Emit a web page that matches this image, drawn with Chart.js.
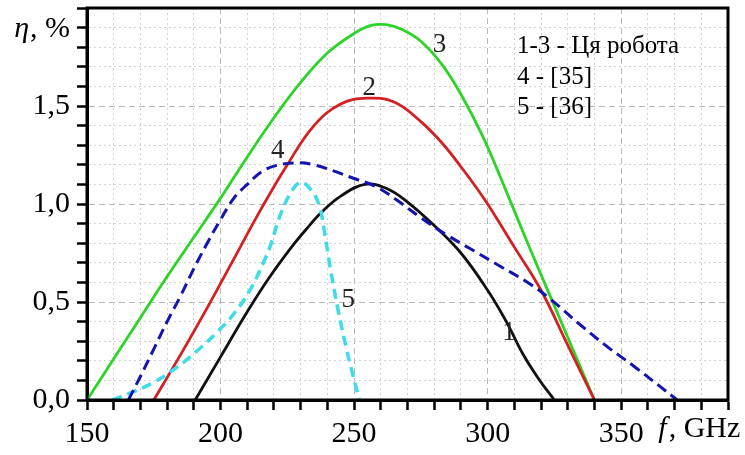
<!DOCTYPE html>
<html>
<head>
<meta charset="utf-8">
<script src="https://cdn.jsdelivr.net/npm/chart.js@4.4.1/dist/chart.umd.min.js"></script>
<style>
  html, body { margin: 0; padding: 0; background: #fff; }
  #wrap { width: 745px; height: 455px; }
</style>
</head>
<body>
<div id="wrap"><canvas id="myChart" width="745" height="455"></canvas></div>
<script>
// curve 1 (black)
const f1 = [190.5, 200, 210, 218, 226, 232, 238, 245, 254, 262, 270, 280, 290, 300, 307, 313, 319, 325];
const eta1 = [0, 0.22, 0.45, 0.62, 0.77, 0.87, 0.96, 1.04, 1.10, 1.08, 1.01, 0.89, 0.75, 0.56, 0.40, 0.24, 0.11, 0];
// curve 2 (red)
const f2 = [175, 185, 195, 205, 215, 225, 235, 245, 255, 265, 275, 283, 290, 299, 310, 320, 330, 340];
const eta2 = [0, 0.23, 0.47, 0.72, 0.97, 1.20, 1.40, 1.51, 1.54, 1.52, 1.42, 1.31, 1.19, 1.02, 0.78, 0.56, 0.28, 0];
// curve 3 (green)
const f3 = [150, 160, 170, 180, 190, 200, 210, 220, 230, 240, 250, 256, 262, 268, 275, 283, 290, 298, 305, 315, 325, 340];
const eta3 = [0, 0.21, 0.42, 0.63, 0.83, 1.03, 1.24, 1.44, 1.62, 1.77, 1.87, 1.91, 1.915, 1.89, 1.83, 1.71, 1.56, 1.35, 1.13, 0.80, 0.48, 0];
// curve 4, ref [35] (blue dashed)
const f4 = [165.5, 170, 175, 180, 185, 190, 195, 200, 205, 210, 216, 222, 229, 235, 242, 250, 258, 266, 275, 285, 295, 305, 315, 323, 335, 345, 355, 371];
const eta4 = [0, 0.12, 0.26, 0.40, 0.53, 0.67, 0.80, 0.92, 1.03, 1.10, 1.17, 1.20, 1.21, 1.20, 1.17, 1.13, 1.09, 1.02, 0.93, 0.84, 0.76, 0.68, 0.60, 0.52, 0.38, 0.27, 0.17, 0];
// curve 5, ref [36] (cyan dashed)
const f5 = [159.5, 167, 175, 184, 192, 199, 205, 211, 216, 219, 222, 226, 230, 234, 237, 239, 241, 244, 247, 249.5, 252];
const eta5 = [0, 0.04, 0.09, 0.17, 0.26, 0.35, 0.44, 0.56, 0.70, 0.80, 0.93, 1.05, 1.11, 1.07, 0.99, 0.85, 0.68, 0.46, 0.27, 0.13, 0];

// curve number labels: [text, f, eta]
const curveLabels = [
  ["1", 308, 0.34],
  ["2", 255.7, 1.59],
  ["3", 282, 1.81],
  ["4", 221.4, 1.27],
  ["5", 247.8, 0.51]
];
const legendLines = ["1-3 - Ця робота", "4 - [35]", "5 - [36]"];

const xTickLabels = [150, 200, 250, 300, 350];
const yTickLabels = [0, 0.5, 1.0, 1.5];

const FONT = "'Liberation Serif', 'DejaVu Serif', serif";

function pts(xs, ys) {
  return xs.map((x, i) => ({x: x, y: ys[i]}));
}

function series(label, xs, ys, color, dash, width) {
  return {
    label: label,
    data: pts(xs, ys),
    borderColor: color,
    backgroundColor: color,
    borderWidth: width,
    borderDash: dash,
    pointRadius: 0,
    showLine: true,
    fill: false,
    tension: 0.4,
    borderCapStyle: 'butt'
  };
}

// frame, axis titles, curve numbers and the legend text
const extras = {
  id: 'extras',
  afterDatasetsDraw(chart) {
    const ctx = chart.ctx;
    const a = chart.chartArea;
    const xs = chart.scales.x, ys = chart.scales.y;
    ctx.save();
    ctx.strokeStyle = '#000';
    ctx.lineWidth = 3;
    ctx.strokeRect(a.left, a.top, a.right - a.left, a.bottom - a.top);

    ctx.fillStyle = '#222';
    ctx.textAlign = 'center';
    ctx.textBaseline = 'middle';
    ctx.font = "27px " + FONT;
    curveLabels.forEach(l => {
      ctx.fillText(l[0], xs.getPixelForValue(l[1]), ys.getPixelForValue(l[2]));
    });

    ctx.fillStyle = '#000';
    ctx.textAlign = 'left';
    ctx.textBaseline = 'alphabetic';
    ctx.font = "25px " + FONT;
    const lx = a.left + 430;
    [53, 84, 114].forEach((by, i) => ctx.fillText(legendLines[i], lx, by));

    // y title at the 1.9 tick
    ctx.font = "30px " + FONT;
    const rest = ", %";
    const wRest = ctx.measureText(rest).width;
    const yb = ys.getPixelForValue(1.9) + 9;
    const xr = a.left - 17;
    ctx.fillText(rest, xr - wRest, yb);
    ctx.font = "italic 30px " + FONT;
    const wEta = ctx.measureText("η").width;
    ctx.fillText("η", xr - wRest - wEta - 1, yb);

    // x title at the 380 tick
    const xl = xs.getPixelForValue(380) - 43;
    ctx.font = "italic 30px " + FONT;
    ctx.fillText("f", xl, 437);
    const wf = ctx.measureText("f").width;
    ctx.font = "30px " + FONT;
    ctx.fillText(", GHz", xl + wf + 2, 437);
    ctx.restore();
  }
};

const config = {
  type: 'scatter',
  data: {
    datasets: [
      series('4', f4, eta4, 'rgb(20,20,175)', [11, 6], 3),
      series('5', f5, eta5, 'rgb(60,220,232)', [10, 6], 3.5),
      series('1', f1, eta1, '#111', [], 2.8),
      series('2', f2, eta2, 'rgb(212,32,32)', [], 2.8),
      series('3', f3, eta3, 'rgb(45,212,40)', [], 2.8)
    ]
  },
  options: {
    responsive: false,
    animation: false,
    layout: { padding: { left: 0, right: 17, top: 8, bottom: 0 } },
    plugins: {
      legend: { display: false },
      tooltip: { enabled: false }
    },
    scales: {
      x: {
        type: 'linear',
        min: 150,
        max: 390,
        afterFit(scale) {
          scale.height = 55;
          scale.paddingLeft = 0; scale.paddingRight = 0;
        },
        grid: {
          color: (c) => (c.tick && c.tick.value % 50 === 0) ? '#b8b8b8' : '#d2d2d2',
          lineWidth: 1,
          tickColor: '#000',
          tickWidth: 2.5,
          tickLength: 10
        },
        border: {
          display: true, color: '#000', width: 3,
          dash: (c) => (c.tick && c.tick.value % 50 === 0) ? [6, 4] : [2, 3]
        },
        ticks: {
          stepSize: 10,
          maxTicksLimit: 100,
          autoSkip: false,
          maxRotation: 0,
          minRotation: 0,
          padding: 6,
          color: '#000',
          font: { family: FONT, size: 30 },
          callback: (v) => xTickLabels.includes(v) ? String(v) : ''
        }
      },
      y: {
        type: 'linear',
        min: 0,
        max: 2.0,
        afterFit(scale) {
          scale.width = 87;
          scale.paddingTop = 0; scale.paddingBottom = 0;
        },
        grid: {
          color: (c) => (c.tick && Math.round(c.tick.value * 10) % 5 === 0) ? '#b8b8b8' : '#d2d2d2',
          lineWidth: 1,
          tickColor: '#000',
          tickWidth: 2.5,
          tickLength: 10
        },
        border: {
          display: true, color: '#000', width: 3,
          dash: (c) => (c.tick && Math.round(c.tick.value * 10) % 5 === 0) ? [6, 4] : [2, 3]
        },
        ticks: {
          stepSize: 0.1,
          maxTicksLimit: 100,
          autoSkip: false,
          padding: 7,
          color: '#000',
          font: { family: FONT, size: 30 },
          callback: (v) => {
            const t = Math.round(v * 10) / 10;
            return yTickLabels.includes(t) ? t.toFixed(1).replace('.', ',') : '';
          }
        }
      }
    }
  },
  plugins: [extras]
};

new Chart(document.getElementById('myChart'), config);
</script>
</body>
</html>
